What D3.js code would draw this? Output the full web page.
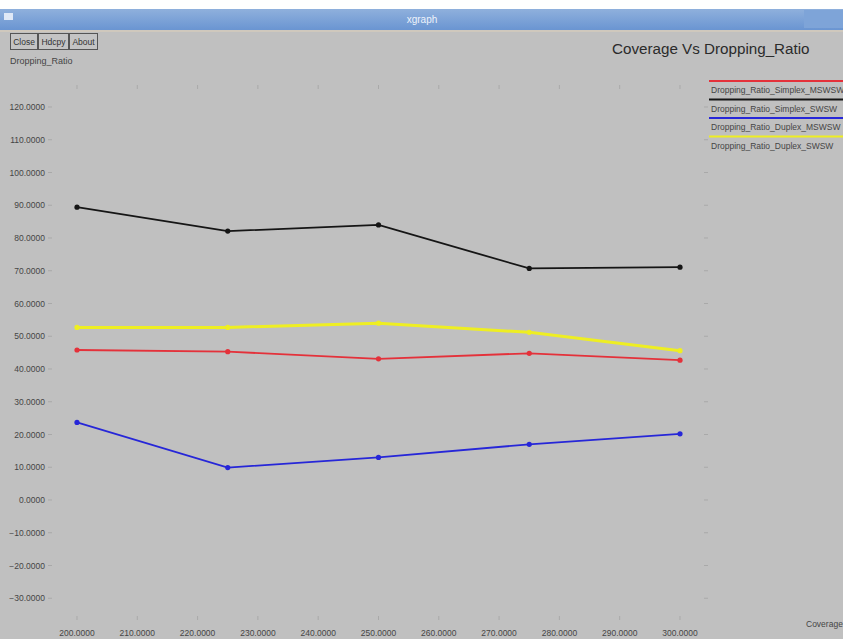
<!DOCTYPE html>
<html>
<head>
<meta charset="utf-8">
<script src="https://cdn.jsdelivr.net/npm/d3@7"></script>
<style>
    html, body { margin: 0; padding: 0; background: #ffffff; }
    svg { display: block; font-family: "Liberation Sans", Arial, sans-serif; }
</style>
</head>
<body>
<div id="chart"></div>
<script>
// Chart data
const coverage = [200, 225, 250, 275, 300];
const seriesNames = [
    "Dropping_Ratio_Simplex_MSWSW",
    "Dropping_Ratio_Simplex_SWSW",
    "Dropping_Ratio_Duplex_MSWSW",
    "Dropping_Ratio_Duplex_SWSW"
];
const simplexMSWSW = [45.8, 45.3, 43.1, 44.8, 42.7];
const simplexSWSW = [89.4, 82.1, 84.0, 70.7, 71.1];
const duplexMSWSW = [23.7, 9.9, 13.0, 17.0, 20.2];
const duplexSWSW = [52.7, 52.7, 54.0, 51.2, 45.6];
const xTicks = [200, 210, 220, 230, 240, 250, 260, 270, 280, 290, 300];
const yTicks = [120, 110, 100, 90, 80, 70, 60, 50, 40, 30, 20, 10, 0, -10, -20, -30];

// Page size
const width = 843;
const height = 639;

// Style constants
const STYLES = {
    colors: {
        background: "#c0c0c0",
        label: "#454545",
        tick: "#a9a9a9",
        red: "#e4313a",
        black: "#151515",
        blue: "#2626d8",
        yellow: "#eeee22"
    }
};
const seriesColors = [STYLES.colors.red, STYLES.colors.black, STYLES.colors.blue, STYLES.colors.yellow];
const seriesValues = [simplexMSWSW, simplexSWSW, duplexMSWSW, duplexSWSW];

const svg = d3.select("#chart")
    .append("svg")
    .attr("width", width)
    .attr("height", height);

// Window frame
svg.append("rect").attr("width", width).attr("height", height).attr("fill", STYLES.colors.background);
svg.append("rect").attr("width", width).attr("height", 9).attr("fill", "#ffffff");

const grad = svg.append("defs").append("linearGradient")
    .attr("id", "titlebar").attr("x1", 0).attr("y1", 0).attr("x2", 0).attr("y2", 1);
grad.append("stop").attr("offset", "0%").attr("stop-color", "#8fb0dc");
grad.append("stop").attr("offset", "100%").attr("stop-color", "#6a95d2");

svg.append("rect").attr("y", 9).attr("width", width).attr("height", 21).attr("fill", "url(#titlebar)");
svg.append("rect").attr("y", 30).attr("width", width).attr("height", 2).attr("fill", "#cfc8bd");
svg.append("rect").attr("x", 4).attr("y", 13).attr("width", 9).attr("height", 7).attr("fill", "#dfe8f6");
svg.append("rect").attr("x", 804).attr("y", 10).attr("width", 39).attr("height", 18).attr("fill", "#7ea4d8");
svg.append("text")
    .attr("x", 422).attr("y", 23)
    .attr("text-anchor", "middle")
    .attr("font-size", 10)
    .attr("fill", "#eef3fb")
    .text("xgraph");

// Buttons
const buttons = [
    { label: "Close", x: 10, w: 27 },
    { label: "Hdcpy", x: 38, w: 30 },
    { label: "About", x: 69, w: 28 }
];
buttons.forEach(b => {
    svg.append("rect")
        .attr("x", b.x + 0.5).attr("y", 33.5)
        .attr("width", b.w).attr("height", 16)
        .attr("fill", "#c4c4c4")
        .attr("stroke", "#555").attr("stroke-width", 1);
    svg.append("text")
        .attr("x", b.x + b.w / 2 + 0.5).attr("y", 45)
        .attr("text-anchor", "middle")
        .attr("font-size", 8.5)
        .attr("fill", "#333")
        .text(b.label);
});

// Titles
svg.append("text")
    .attr("x", 612).attr("y", 54)
    .attr("font-size", 15.2)
    .attr("fill", "#2b2b2b")
    .text("Coverage Vs Dropping_Ratio");

svg.append("text")
    .attr("x", 10).attr("y", 64)
    .attr("font-size", 9)
    .attr("fill", STYLES.colors.label)
    .text("Dropping_Ratio");

svg.append("text")
    .attr("x", 806).attr("y", 627)
    .attr("font-size", 8.5)
    .attr("fill", STYLES.colors.label)
    .text("Coverage");

// Scales
const plot = { left: 48, right: 708, top: 85, bottom: 620 };
const x = d3.scaleLinear().domain([200, 300]).range([77, 680]);
const y = d3.scaleLinear().domain([0, 120]).range([500, 107]);

const g = svg.append("g");

// Tick marks on all four sides
xTicks.forEach(t => {
    g.append("line")
        .attr("x1", x(t)).attr("x2", x(t))
        .attr("y1", plot.top).attr("y2", plot.top + 4)
        .attr("stroke", STYLES.colors.tick);
    g.append("line")
        .attr("x1", x(t)).attr("x2", x(t))
        .attr("y1", plot.bottom - 4).attr("y2", plot.bottom)
        .attr("stroke", STYLES.colors.tick);
});
yTicks.forEach(t => {
    g.append("line")
        .attr("x1", plot.left).attr("x2", plot.left + 4)
        .attr("y1", y(t)).attr("y2", y(t))
        .attr("stroke", STYLES.colors.tick);
    g.append("line")
        .attr("x1", plot.right - 4).attr("x2", plot.right)
        .attr("y1", y(t)).attr("y2", y(t))
        .attr("stroke", STYLES.colors.tick);
});

// Axis labels
g.selectAll("text.ylab")
    .data(yTicks)
    .enter()
    .append("text")
    .attr("class", "ylab")
    .attr("x", 45)
    .attr("y", d => y(d) + 3)
    .attr("text-anchor", "end")
    .attr("font-size", 8.5)
    .attr("fill", STYLES.colors.label)
    .text(d => d3.format(".4f")(d));

g.selectAll("text.xlab")
    .data(xTicks)
    .enter()
    .append("text")
    .attr("class", "xlab")
    .attr("x", d => x(d))
    .attr("y", 636)
    .attr("text-anchor", "middle")
    .attr("font-size", 8.5)
    .attr("fill", STYLES.colors.label)
    .text(d => d3.format(".4f")(d));

// Series lines and markers
const line = d3.line()
    .x((d, i) => x(coverage[i]))
    .y(d => y(d));

seriesValues.forEach((vals, k) => {
    g.append("path")
        .attr("d", line(vals))
        .attr("fill", "none")
        .attr("stroke", seriesColors[k])
        .attr("stroke-width", k === 3 ? 3 : 1.8);
    g.selectAll(null)
        .data(vals)
        .enter()
        .append("circle")
        .attr("cx", (d, i) => x(coverage[i]))
        .attr("cy", d => y(d))
        .attr("r", 2.6)
        .attr("fill", seriesColors[k]);
});

// Legend
seriesNames.forEach((name, k) => {
    const ly = 81 + k * 18.5;
    g.append("line")
        .attr("x1", 709).attr("x2", width)
        .attr("y1", ly).attr("y2", ly)
        .attr("stroke", seriesColors[k])
        .attr("stroke-width", 2);
    g.append("text")
        .attr("x", 711)
        .attr("y", ly + 12)
        .attr("font-size", 8.5)
        .attr("fill", STYLES.colors.label)
        .text(name);
});
</script>
</body>
</html>
